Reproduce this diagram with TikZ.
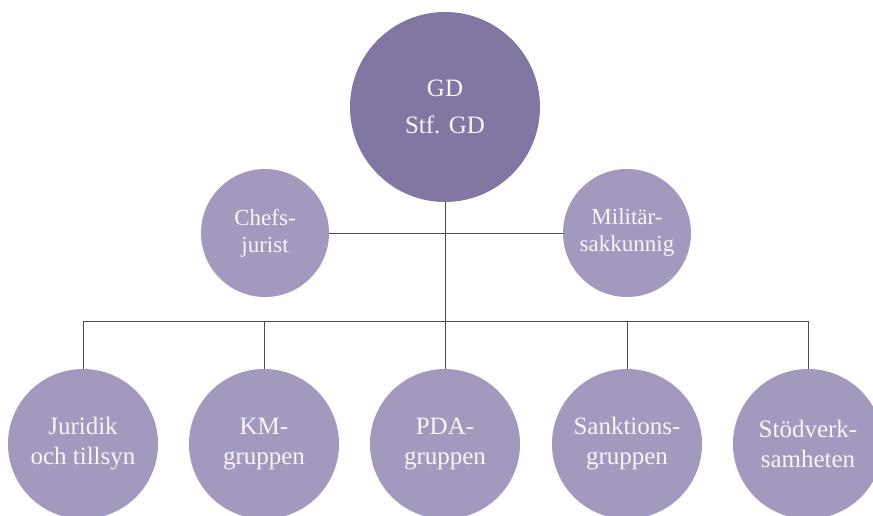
\documentclass[tikz,border=0pt]{standalone}
\usepackage{fontspec}
\setmainfont{Liberation Serif}
\definecolor{bigfill}{HTML}{8276A3}
\definecolor{smallfill}{HTML}{A398BD}
\definecolor{linecol}{HTML}{4A4A4A}
\definecolor{txtcol}{HTML}{F8F6FA}
\tikzset{
  unit/.style={circle, fill=smallfill, draw=none, inner sep=0pt, text=txtcol, align=center},
  bigunit/.style={unit, fill=bigfill, minimum size=190pt, font=\fontsize{25}{37}\selectfont},
  midunit/.style={unit, minimum size=128pt, font=\fontsize{23}{27}\selectfont},
  lowunit/.style={unit, minimum size=150pt, font=\fontsize{25}{30}\selectfont},
  link/.style={draw=linecol, line width=1pt}
}
\begin{document}
\begin{tikzpicture}[x=1pt,y=-1pt]
\useasboundingbox (0,0) rectangle (873,516);
\clip (0,0) rectangle (873,516);
\node[bigunit] (gd) at (445,107) {GD\\Stf. GD};
\node[midunit] (chef) at (265,233) {Chefs-\\jurist};
\node[midunit] (mil) at (627,233) {Militär-\\sakkunnig};
\node[lowunit] (jur) at (83,444) {Juridik\\och tillsyn};
\node[lowunit] (km) at (264,444) {KM-\\gruppen};
\node[lowunit] (pda) at (445,444) {PDA-\\gruppen};
\node[lowunit] (sank) at (627,444) {Sanktions-\\gruppen};
\node[lowunit] (stod) at (808,444) {Stödverk-\\samheten};
\coordinate (bar) at (445,321);
\coordinate (barL) at (83,321);
\coordinate (barR) at (808,321);
\draw[link] (gd.south) -- (pda.north);
\draw[link] (chef.east) -- (mil.west);
\draw[link] (barL) -- (barR);
\draw[link] (barL) -- (jur.north);
\draw[link] (km.north |- bar) -- (km.north);
\draw[link] (sank.north |- bar) -- (sank.north);
\draw[link] (barR) -- (stod.north);
\end{tikzpicture}
\end{document}
